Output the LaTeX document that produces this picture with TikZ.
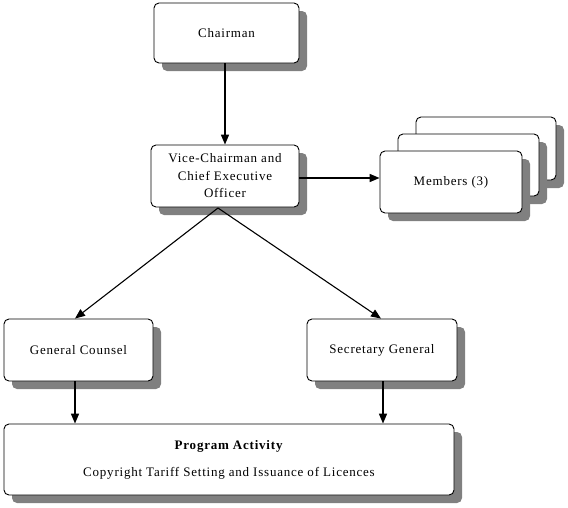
\documentclass[tikz,border=0pt]{standalone}
\usepackage{fontspec}
\setmainfont{Liberation Serif}[LetterSpace=6]
\usetikzlibrary{arrows.meta,shadows}
\tikzset{
  orgbox/.style={draw=black, line width=0.9pt, fill=white, rounded corners=5pt,
    align=center, inner sep=0pt, font=\fontsize{13}{17.5}\selectfont,
    drop shadow={shadow xshift=8pt, shadow yshift=-8pt, fill=gray, opacity=1}},
  arr/.style={line width=1.6pt, -{Triangle[length=10pt,width=8pt]}},
  thinarr/.style={line width=1.1pt, -{Triangle[length=10pt,width=8pt]}}
}
\begin{document}
\begin{tikzpicture}[x=1pt,y=-1pt]
\useasboundingbox (0,0) rectangle (568,507);
% Chairman
\node[orgbox, minimum width=145pt, minimum height=60pt] (chair) at (226.5,33) {Chairman};
% Vice-Chairman
\node[orgbox, minimum width=148pt, minimum height=62pt] (vc) at (225,176) {Vice-Chairman and\\Chief Executive\\Officer};
% Members stack
\node[orgbox, minimum width=140pt, minimum height=63pt] (m3) at (486,148.5) {};
\node[orgbox, minimum width=141pt, minimum height=62pt] (m2) at (468.5,165) {};
\node[orgbox, minimum width=142pt, minimum height=62pt] (m1) at (451,182) {Members (3)};
% General Counsel
\node[orgbox, minimum width=149pt, minimum height=62pt] (gc) at (78.5,350) {General Counsel};
% Secretary General
\node[orgbox, minimum width=150pt, minimum height=62pt] (sg) at (382,350) {Secretary General};
% Program Activity
\node[orgbox, minimum width=450pt, minimum height=71pt, font=\fontsize{13}{27}\selectfont] (pa) at (229,459.5) {\textbf{Program Activity}\\Copyright Tariff Setting and Issuance of Licences};
% connectors
\draw[arr] (chair.south -| 225,0) -- (vc.north);
\draw[arr] (vc.east |- 0,178) -- (m1.west |- 0,178);
\coordinate (vcb) at (218,208);
\draw[thinarr] (vcb) -- (gc.north -| 75,0);
\draw[thinarr] (vcb) -- (sg.north -| 381,0);
\draw[arr] (gc.south -| 75,0) -- (pa.north -| 75,0);
\draw[arr] (sg.south -| 383,0) -- (pa.north -| 383,0);
\end{tikzpicture}
\end{document}
